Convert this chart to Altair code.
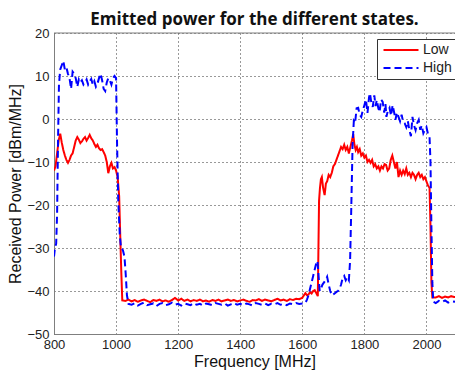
import altair as alt
import pandas as pd

low_freq = [800, 805, 810, 815, 820, 825, 830, 835, 840, 845, 850, 855, 860, 865, 870, 875, 880, 885, 890, 895,
            900, 905, 910, 915, 920, 925, 930, 935, 940, 945, 950, 955, 960, 965, 970, 975, 980, 985, 990, 995,
            1000, 1005, 1010, 1013, 1017, 1020,
            1030, 1040, 1050, 1060, 1070, 1080, 1090, 1100, 1110, 1120, 1130, 1140, 1150, 1160, 1170, 1180, 1190,
            1200, 1210, 1220, 1230, 1240, 1250, 1260, 1270, 1280, 1290, 1300, 1310, 1320, 1330, 1340, 1350, 1360,
            1370, 1380, 1390, 1400, 1410, 1420, 1430, 1440, 1450, 1460, 1470, 1480, 1490, 1500, 1510, 1520, 1530,
            1540, 1550, 1560, 1570, 1580, 1590,
            1600, 1605, 1610, 1615, 1620, 1625, 1630, 1635, 1640, 1645, 1650, 1652, 1654, 1657, 1660, 1663, 1667,
            1672, 1676, 1680, 1685, 1690, 1695, 1700, 1705, 1710, 1715, 1720, 1725, 1730, 1735, 1740, 1745, 1750,
            1755, 1760, 1764, 1768, 1772, 1776, 1780, 1785, 1790, 1795, 1800, 1805, 1810, 1815, 1820, 1825, 1830,
            1835, 1840, 1845, 1850, 1855, 1860, 1865, 1870, 1875, 1880, 1885, 1890, 1895, 1900, 1905, 1910, 1915,
            1920, 1925, 1930, 1935, 1940, 1945, 1950, 1955, 1960, 1965, 1970, 1975, 1980, 1985, 1990, 1995, 2000,
            2005, 2010, 2013, 2016, 2019, 2030, 2040, 2050, 2060, 2070, 2080, 2090, 2100]
low_power = [-12, -11, -8, -5, -3.4, -5.5, -7.2, -8.5, -9.5, -10.2, -9.5, -8.5, -8, -6.5, -5, -4.2, -4.8, -5.6, -5.2, -4.6,
             -4.2, -5, -4.4, -3.7, -4.5, -5, -5.8, -6.5, -6, -6.8, -7.2, -7, -7.7, -8.5, -10, -12.6, -11, -10.2, -11.5, -11.2,
             -12, -13.5, -18, -26, -36, -42.2,
             -42.3, -42.0, -42.4, -42.1, -42.5, -42.2, -42.0, -42.3, -42.6, -42.1, -42.3, -42.0, -42.4, -42.2, -42.5, -42.1, -41.6,
             -42.2, -41.8, -42.3, -42.0, -42.4, -42.1, -42.3, -42.0, -42.4, -42.2, -42.5, -42.1, -42.3, -42.0, -42.4, -42.2, -42.0,
             -42.3, -42.1, -42.4, -42.2, -42.0, -42.3, -42.5, -42.1, -42.2, -41.9, -42.3, -42.0, -42.2, -42.4, -42.1, -41.8, -42.2,
             -42.0, -42.3, -41.9, -42.1, -41.8, -41.9,
             -41.6, -41.0, -40.5, -41.0, -40.8, -40.3, -40.6, -40.0, -39.8, -40.5, -41.2, -30, -19, -16, -14, -13.5, -16,
             -17.7, -15, -14.5, -13, -13.5, -12.5, -11, -10.5, -9.5, -8.5, -7.5, -6.5, -7, -6, -7.2, -6.5, -8,
             -6.5, -5, -3.5, -6, -7.2, -6.5, -7.7, -7, -8.5, -8, -9, -8.5, -10, -9.5, -10.2, -9.5, -11,
             -10.5, -11.5, -11, -12, -11, -11.5, -10.5, -10.7, -12, -11.5, -9.5, -8.5, -10, -11.5, -10, -13.5, -12,
             -13, -12, -12.8, -11.5, -13, -12.5, -13.5, -12.5, -13, -14, -13, -12.5, -13.5, -13, -14, -13.5, -14.5,
             -15.5, -16, -25, -38, -41.5, -41.5, -41.2, -41.6, -41.3, -41.5, -41.2, -41.4, -41.3]

high_freq = [800, 803, 807, 810, 813, 816, 820, 825, 830, 835, 840, 845, 850, 855, 860, 865, 870, 875, 880, 885,
             890, 895, 900, 905, 910, 915, 920, 925, 930, 935, 940, 945, 950, 955, 960, 965, 970, 975, 980, 985,
             990, 995, 1000, 1003, 1007, 1012, 1016, 1022, 1027, 1031, 1035, 1040,
             1050, 1060, 1070, 1080, 1090, 1100, 1110, 1120, 1130, 1140, 1150, 1160, 1170, 1180, 1190, 1200, 1210,
             1220, 1230, 1240, 1250, 1260, 1270, 1280, 1290, 1300, 1310, 1320, 1330, 1340, 1350, 1360, 1370, 1380,
             1390, 1400, 1410, 1420, 1430, 1440, 1450, 1460, 1470, 1480, 1490, 1500, 1510, 1520, 1530, 1540, 1550,
             1560, 1570, 1580, 1590, 1600,
             1610, 1615, 1620, 1625, 1630, 1635, 1640, 1645, 1649, 1653, 1656, 1660, 1665, 1670, 1675, 1680, 1685,
             1690, 1695, 1700, 1705, 1710, 1715, 1720, 1725, 1730, 1735, 1740, 1745, 1750, 1754, 1758, 1762, 1766,
             1770, 1775, 1780, 1785, 1790, 1795, 1800, 1805, 1810, 1815, 1818, 1822, 1827, 1832, 1836, 1840, 1845,
             1849, 1854, 1859, 1864, 1868, 1871, 1876, 1881, 1886, 1891, 1896, 1900, 1905, 1910, 1915, 1920, 1925,
             1930, 1935, 1940, 1945, 1950, 1955, 1960, 1965, 1970, 1975, 1980, 1985, 1990, 1995, 2000, 2005, 2010,
             2013, 2016, 2019, 2022, 2030, 2040, 2050, 2060, 2070, 2080, 2090, 2100]
high_power = [-32, -30, -29, -22, -5, 8, 11.5, 12.5, 13.5, 11.5, 12, 10.5, 9.5, 7, 11, 10.5, 9.5, 7.5, 9.2, 8.5,
              9, 8, 8.5, 9.2, 8, 8.7, 9.3, 8, 8.8, 7.5, 8.2, 9.5, 10.5, 9, 7, 6.5, 8.5, 9.5, 9, 8,
              9.5, 10, 9.5, -5, -19, -27, -30, -30.5, -32, -36, -41, -43,
              -43.2, -42.8, -43.4, -43.0, -42.7, -43.3, -43.1, -42.9, -43.5, -43.0, -42.8, -43.3, -43.1, -42.7, -43.2, -43.0, -43.4,
              -42.9, -43.1, -43.3, -42.8, -43.2, -43.0, -43.4, -42.9, -43.1, -43.3, -42.8, -43.0, -43.2, -42.9, -43.4, -43.1, -42.8,
              -43.2, -43.0, -43.3, -42.9, -43.1, -43.4, -42.8, -43.0, -43.2, -42.9, -43.3, -43.0, -43.1, -42.8, -43.2, -43.0, -43.3,
              -42.9, -43.1, -42.8, -43.0, -42.9,
              -42.8, -42, -41, -39.5, -38, -36.5, -35, -33.5, -33, -37, -40, -39.5, -38.5, -38, -37.5, -36.7, -38.5,
              -40, -41, -40.8, -40.5, -40.2, -40, -39.5, -38.5, -37, -36.5, -37.5, -36.8, -37.5, -33, -20, -6, -0.5,
              -1, 2.5, 2.6, 1, 0.5, 2, 3.2, 4.5, 1.4, 5, 6, 4, 2.8, 5.5, 3, 4.4, 2.5,
              1.6, 4.5, 4, 1.5, 3.5, 0.5, 2, 2.6, 0.8, 3.2, 1.5, -0.2, 1.5, 0.5, -0.5, 1, -0.7,
              -1, -1.9, -0.5, -2.6, -4, 0.5, -1.5, -2.6, -1, -0.2, -2.5, -1.5, -3.3, -2.5, -1.9, -3.5, -4.2,
              -10, -25, -38, -42.5, -42.8, -42.3, -42.6, -42.2, -42.7, -42.4, -42.5, -42.3]

series_names = ["Low", "High"]
series_colors = ["#ff0000", "#0000ff"]
x_ticks = [800, 1000, 1200, 1400, 1600, 1800, 2000]
y_ticks = [-50, -40, -30, -20, -10, 0, 10, 20]

df = pd.concat([
    pd.DataFrame({"freq": low_freq, "power": low_power, "state": "Low", "order": range(len(low_freq))}),
    pd.DataFrame({"freq": high_freq, "power": high_power, "state": "High", "order": range(len(high_freq))}),
])

tick_font = "Liberation Sans"

lines = alt.Chart(df).mark_line(strokeWidth=2, clip=True).encode(
    x=alt.X("freq:Q", scale=alt.Scale(domain=[800, 2092], nice=False, zero=False),
            axis=alt.Axis(values=x_ticks, title="Frequency [MHz]", format="d", labelFlush=False)),
    y=alt.Y("power:Q", scale=alt.Scale(domain=[-50, 20], nice=False, zero=False),
            axis=alt.Axis(values=y_ticks, title="Received Power [dBm/MHz]", format="d", labelFlush=False)),
    order="order:Q",
    color=alt.Color("state:N", scale=alt.Scale(domain=series_names, range=series_colors),
                    sort=series_names,
                    legend=alt.Legend(title=None, orient="none", legendX=323, legendY=6,
                                      symbolType="M-3,0H3", symbolSize=136, symbolStrokeWidth=2,
                                      symbolOffset=13,
                                      labelFont=tick_font, labelFontSize=14, labelColor="#222",
                                      fillColor="white", strokeColor="#333", padding=4,
                                      rowPadding=4, labelOffset=15)),
    strokeDash=alt.StrokeDash("state:N", scale=alt.Scale(domain=series_names, range=[[1, 0], [7, 4]]),
                              sort=series_names, legend=None),
)

top_frame = alt.Chart(pd.DataFrame({"ymax": [20]})).mark_rule(color="#7f7f7f", strokeWidth=1).encode(
    y="ymax:Q"
)

chart = alt.layer(lines, top_frame).properties(
    width=401, height=301,
    title=alt.TitleParams("Emitted power for the different states.", font="Open Sans", fontSize=17,
                          fontWeight="bold", color="#111", offset=7, dy=9, anchor="middle"),
    autosize=alt.AutoSizeParams(type="none"),
    padding={"left": 54, "top": 33, "right": 0, "bottom": 37},
).configure_view(stroke=None).configure_axis(
    domainColor="#7f7f7f", domainWidth=1,
    grid=True, gridColor="#333", gridDash=[1, 3], gridWidth=1,
    ticks=False, labelFont=tick_font, labelFontSize=13, labelColor="#222",
    titleFont=tick_font, titleFontSize=16, titleFontWeight="normal", titleColor="#111",
).configure_axisX(labelPadding=4, titlePadding=2).configure_axisY(labelPadding=5, titlePadding=3)

chart.save("out.html", embed_options={"renderer": "svg", "actions": False})
